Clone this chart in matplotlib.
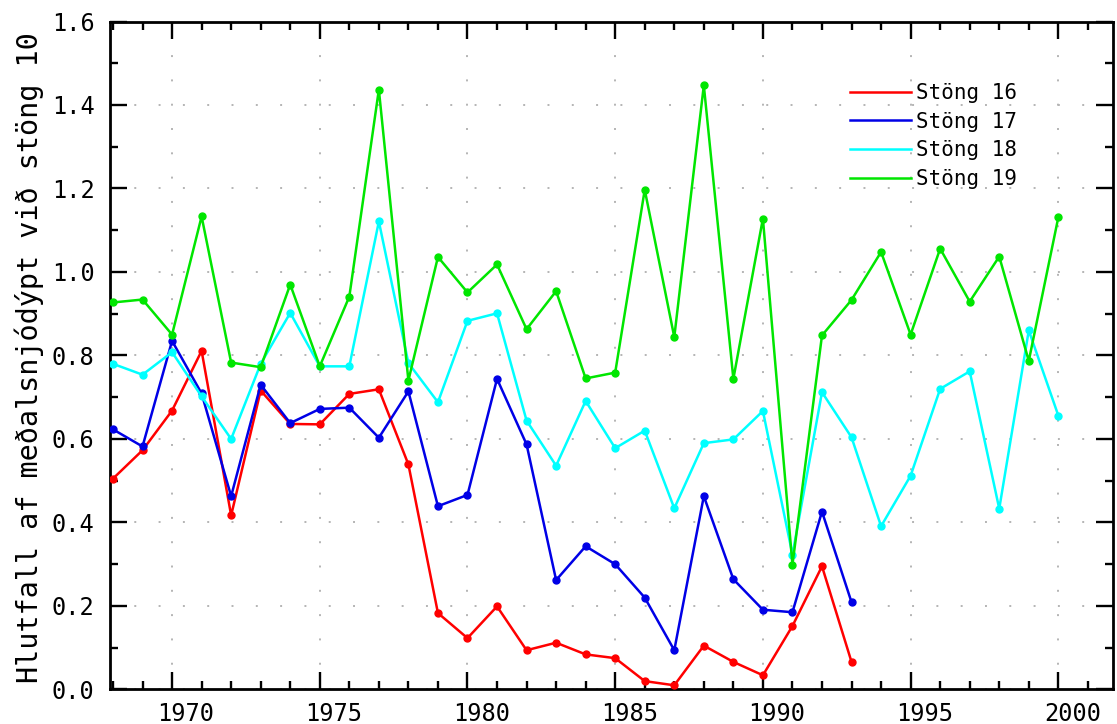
import matplotlib
matplotlib.use("Agg")
import matplotlib.pyplot as plt
import matplotlib.transforms as mtransforms
from matplotlib.lines import Line2D
from matplotlib.ticker import MultipleLocator, FormatStrFormatter

# Annual snow-depth ratios relative to pole 10
years_short = list(range(1968, 1994))
years_long = list(range(1968, 2001))

stong16 = [0.505, 0.573, 0.668, 0.811, 0.417, 0.716, 0.636, 0.635, 0.708, 0.719,
           0.539, 0.183, 0.123, 0.199, 0.094, 0.112, 0.084, 0.075, 0.020, 0.010,
           0.105, 0.066, 0.034, 0.152, 0.295, 0.066]
stong17 = [0.623, 0.582, 0.835, 0.709, 0.463, 0.730, 0.638, 0.672, 0.675, 0.603,
           0.714, 0.439, 0.466, 0.744, 0.587, 0.262, 0.343, 0.300, 0.220, 0.094,
           0.463, 0.264, 0.191, 0.185, 0.426, 0.209]
stong18 = [0.780, 0.754, 0.808, 0.702, 0.600, 0.780, 0.902, 0.774, 0.774, 1.121,
           0.782, 0.688, 0.883, 0.901, 0.644, 0.536, 0.691, 0.578, 0.620, 0.434,
           0.590, 0.599, 0.667, 0.323, 0.712, 0.604, 0.391, 0.512, 0.720, 0.762,
           0.433, 0.860, 0.656]
stong19 = [0.927, 0.934, 0.850, 1.133, 0.783, 0.772, 0.970, 0.774, 0.941, 1.437,
           0.740, 1.036, 0.951, 1.018, 0.863, 0.954, 0.745, 0.759, 1.197, 0.844,
           1.447, 0.744, 1.128, 0.299, 0.848, 0.933, 1.048, 0.850, 1.056, 0.929,
           1.037, 0.787, 1.131]

labels = ["Stöng 16", "Stöng 17", "Stöng 18", "Stöng 19"]
colors = ["#ff0000", "#0000e6", "#00ffff", "#00e600"]

plt.rcParams["font.family"] = ["DejaVu Sans Mono", "DejaVu Sans"]

fig = plt.figure(figsize=(11.17, 7.24), dpi=100)
ax = fig.add_axes([0.0985, 0.0477, 0.8979, 0.9226])

series = [(years_short, stong16), (years_short, stong17),
          (years_long, stong18), (years_long, stong19)]
for (x, y), c in zip(series, colors):
    ax.plot(x, y, color=c, lw=1.8, marker="o", ms=5, mec=c, mfc=c, zorder=3)

ax.set_xlim(1967.9, 2001.85)
ax.set_ylim(0.0, 1.6)

ax.xaxis.set_major_locator(MultipleLocator(5))
ax.xaxis.set_minor_locator(MultipleLocator(1))
ax.yaxis.set_major_locator(MultipleLocator(0.2))
ax.yaxis.set_minor_locator(MultipleLocator(0.1))
ax.yaxis.set_major_formatter(FormatStrFormatter("%.1f"))

ax.tick_params(which="both", direction="in", top=True, right=True,
               width=1.7, labelsize=17, colors="black")
ax.tick_params(which="major", length=12, pad=9)
ax.tick_params(which="minor", length=6)
ax.tick_params(axis="y", which="major", pad=11)

for s in ax.spines.values():
    s.set_linewidth(2.0)

ax.grid(True, which="major", color="#b4b4b4", lw=1.4, linestyle=(0, (1, 11.5)))
ax.set_axisbelow(True)

# shift year labels slightly to the right of their ticks
offset = mtransforms.ScaledTranslation(0.14, 0, fig.dpi_scale_trans)
for lab in ax.get_xticklabels():
    lab.set_transform(lab.get_transform() + offset)

ax.set_ylabel("Hlutfall af meðalsnjódýpt við stöng 10", fontsize=20.5)
ax.yaxis.set_label_coords(-0.066, 0.497)

handles = [Line2D([], [], color=c, lw=1.8) for c in colors]
ax.legend(handles, labels, loc="upper left", bbox_to_anchor=(0.738, 0.908),
          frameon=False, fontsize=15, handlelength=2.9, handletextpad=0.25,
          labelspacing=0.42, borderpad=0, borderaxespad=0)

fig.savefig("out.png", dpi=100)
